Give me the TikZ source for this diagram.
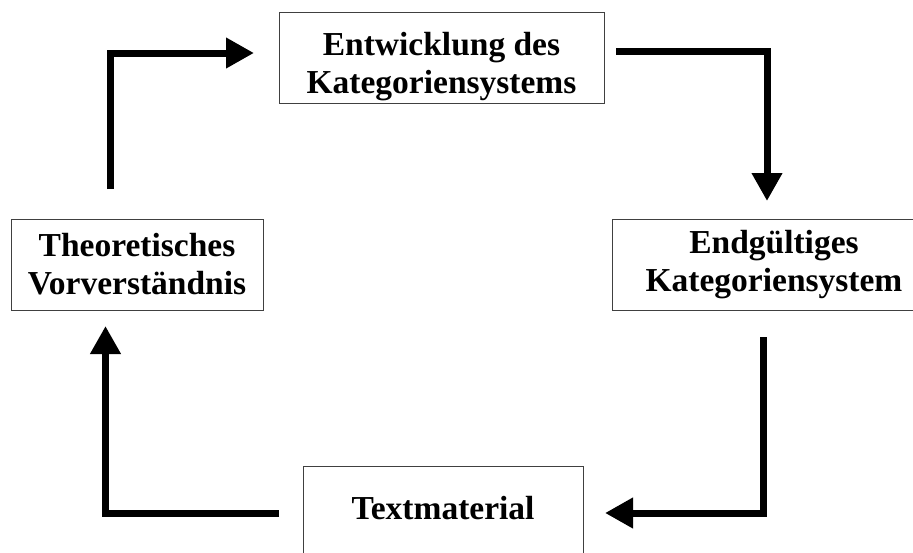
\documentclass[tikz,border=0pt]{standalone}
\usepackage{fontspec}
\setmainfont{Liberation Serif}
\usetikzlibrary{arrows.meta}

\begin{document}
\begin{tikzpicture}[x=1pt, y=-1pt,
  stage/.style={draw=black!75, line width=1pt, minimum height=91pt,
    inner sep=0pt, align=center,
    font=\fontsize{33.5}{38}\selectfont\bfseries},
  flow/.style={line width=7pt, line join=miter,
    -{Triangle[length=28pt, width=29pt]}}]
  % page frame
  \useasboundingbox (0,0) rectangle (913,552);

  % the four stages of the cycle
  \node[stage, minimum width=325pt, text depth=0pt] (entw) at (441.5,57.5)
    {\rule{0pt}{33pt}Entwicklung des\\Kategoriensystems};
  \node[stage, minimum width=324pt] (endg) at (774,264.5)
    {Endgültiges\\Kategoriensystem};
  \node[stage, minimum width=280pt, text depth=8pt] (textm) at (443,511.5)
    {Textmaterial};
  \node[stage, minimum width=252pt] (theo) at (137,264.5)
    {Theoretisches\\Vorverständnis};

  % free ends of the angled connectors
  \coordinate (a1s) at (110,189);  \coordinate (a1e) at (254,53);
  \coordinate (a2s) at (616,51);   \coordinate (a2e) at (767,201);
  \coordinate (a3s) at (763.5,337);\coordinate (a3e) at (605,513);
  \coordinate (a4s) at (279,513.5);\coordinate (a4e) at (105.5,326);

  \draw[flow] (a1s) |- (a1e);
  \draw[flow] (a2s) -| (a2e);
  \draw[flow] (a3s) |- (a3e);
  \draw[flow] (a4s) -| (a4e);
\end{tikzpicture}
\end{document}
